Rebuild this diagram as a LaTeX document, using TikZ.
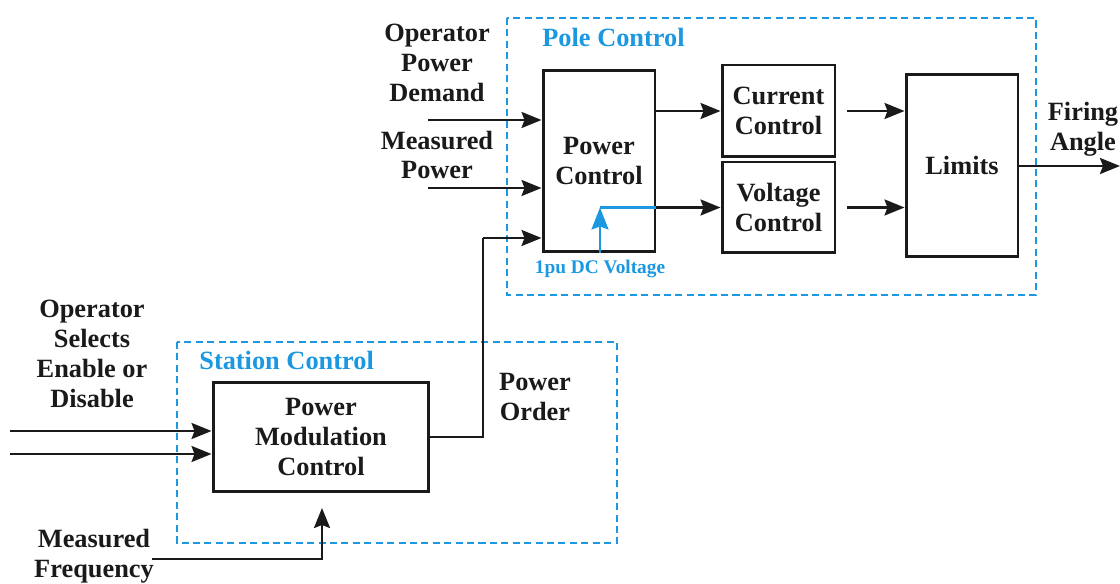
\documentclass[tikz,border=0pt]{standalone}
\usepackage{fontspec}
\setmainfont{Liberation Serif}
\usetikzlibrary{arrows.meta,positioning,calc}
\definecolor{GroupBlue}{HTML}{1B98E0}
\definecolor{InkBlack}{HTML}{1A1A1A}
\tikzset{
  blk/.style={rectangle,draw=InkBlack,line width=1.7pt,align=center,
              font=\fontsize{15}{17}\selectfont\bfseries\color{InkBlack}},
  lbl/.style={align=center,inner sep=0pt,
              font=\fontsize{15}{17}\selectfont\bfseries\color{InkBlack}},
  glbl/.style={anchor=west,inner sep=0pt,
               font=\fontsize{15}{17}\selectfont\bfseries\color{GroupBlue}},
  grp/.style={draw=GroupBlue,line width=1.5pt,dash pattern=on 4pt off 2.5pt},
  arr/.style={-{Stealth[length=4mm,width=3.2mm,inset=0.6mm]},line width=1.4pt,color=InkBlack},
  barr/.style={-{Stealth[length=4.4mm,width=3.4mm,inset=0.6mm]},line width=1.4pt,color=GroupBlue},
  bline/.style={line width=1.4pt,color=GroupBlue},
  line/.style={line width=1.4pt,color=InkBlack},
}
\begin{document}
\begin{tikzpicture}[x=0.02cm,y=-0.02cm]
  \useasboundingbox (0,0) rectangle (1120,584);

  % group frames
  \draw[grp] (507,18) rectangle (1036,295);
  \draw[grp] (177,342) rectangle (617,543);
  \node[glbl] (polelbl) at (542,37) {Pole Control};
  \node[glbl] (stalbl) at (199,360) {Station Control};

  % blocks
  \node[blk,minimum width=2.24cm,minimum height=3.64cm] (pc) at (599,161)
    {Power\\Control};
  \node[blk,minimum width=2.26cm,minimum height=1.84cm] (cc) at (778.5,111)
    {Current\\Control};
  \node[blk,minimum width=2.26cm,minimum height=1.82cm] (vc) at (778.5,207.5)
    {Voltage\\Control};
  \node[blk,minimum width=2.24cm,minimum height=3.66cm] (lim) at (962,165.5)
    {Limits};
  \node[blk,minimum width=4.32cm,minimum height=2.2cm] (pmc) at (321,437)
    {Power\\Modulation\\Control};

  % texts
  \node[lbl] (opdtxt) at (437,63) {Operator\\Power\\Demand};
  \node[lbl] (mptxt) at (437,155) {Measured\\Power};
  \node[lbl] (fatxt) at (1083,129) {Firing\\Angle};
  \node[lbl] (potxt) at (535,397) {Power\\Order};
  \node[lbl] (seltxt) at (92,354) {Operator\\Selects\\Enable or\\Disable};
  \node[lbl] (mftxt) at (94,556) {Measured\\Frequency};
  \node[inner sep=0pt,font=\fontsize{11}{13}\selectfont\bfseries\color{GroupBlue}]
    (dcvtxt) at (600,269) {1pu DC Voltage};

  % free ends
  \coordinate (opd) at (428,120);
  \coordinate (mp) at (428,188);
  \coordinate (po) at (483,238);
  \coordinate (fa) at (1120,166);
  \coordinate (sel1) at (10,431);
  \coordinate (sel2) at (10,454);
  \coordinate (mf) at (152,559);
  \coordinate (mftip) at (322,508);
  \coordinate (dcv) at (600,253);
  \coordinate (dcvtop) at (600,207.5);

  % connectors
  \draw[arr] (opd) -- (opd -| pc.west);
  \draw[arr] (mp) -- (mp -| pc.west);
  \draw[line] (pmc.east) -| (po);
  \draw[arr] (po) -- (po -| pc.west);
  \draw[arr] (pc.east |- cc) -- (cc.west);
  \draw[arr] (pc.east |- vc) -- (vc.west);
  \draw[bline] (dcvtop) -- (pc.east |- dcvtop);
  \draw[barr] (dcv) -- (dcvtop);
  \draw[arr,shorten <=0.22cm] (cc.east) -- (cc.east -| lim.west);
  \draw[arr,shorten <=0.22cm] (vc.east) -- (vc.east -| lim.west);
  \draw[arr] (lim.east |- fa) -- (fa);
  \draw[arr] (sel1) -- (sel1 -| pmc.west);
  \draw[arr] (sel2) -- (sel2 -| pmc.west);
  \draw[arr] (mf) -| (mftip);

\end{tikzpicture}
\end{document}
